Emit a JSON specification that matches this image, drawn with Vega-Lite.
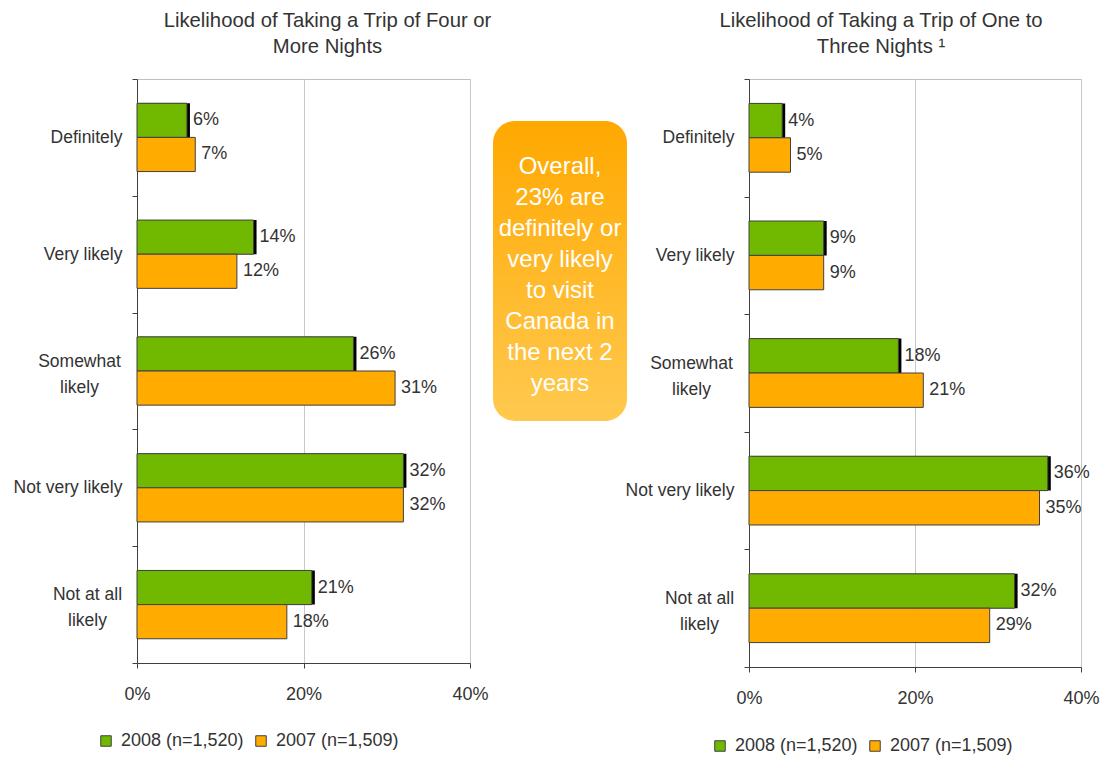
{
  "$schema": "https://vega.github.io/schema/vega-lite/v6.json",
  "padding": {"left": 12, "top": 10, "right": 0, "bottom": 5},
  "background": "white",
  "spacing": -3,
  "config": {
    "font": "Liberation Sans",
    "view": {"stroke": "#c0c0c0"},
    "axis": {"labelFont": "Liberation Sans", "labelColor": "#333333", "domainColor": "#404040", "tickColor": "#404040", "gridColor": "#c8c8c8"},
    "title": {"font": "Liberation Sans", "fontSize": 20.3, "fontWeight": "normal", "color": "#333333", "lineHeight": 26},
    "legend": {"labelFont": "Liberation Sans", "labelFontSize": 18, "labelColor": "#333333", "symbolType": "square", "symbolSize": 110, "symbolStrokeColor": "#404040", "symbolStrokeWidth": 1, "labelOffset": 6, "columnPadding": 8, "padding": 0, "symbolOpacity": 1},
    "concat": {"spacing": 0}
  },
  "datasets": {
    "four": [
      {"cat": "Definitely", "year": "2008 (n=1,520)", "pct": 0.06},
      {"cat": "Definitely", "year": "2007 (n=1,509)", "pct": 0.07},
      {"cat": "Very likely", "year": "2008 (n=1,520)", "pct": 0.14},
      {"cat": "Very likely", "year": "2007 (n=1,509)", "pct": 0.12},
      {"cat": "Somewhat likely", "year": "2008 (n=1,520)", "pct": 0.26},
      {"cat": "Somewhat likely", "year": "2007 (n=1,509)", "pct": 0.31},
      {"cat": "Not very likely", "year": "2008 (n=1,520)", "pct": 0.32},
      {"cat": "Not very likely", "year": "2007 (n=1,509)", "pct": 0.32},
      {"cat": "Not at all likely", "year": "2008 (n=1,520)", "pct": 0.21},
      {"cat": "Not at all likely", "year": "2007 (n=1,509)", "pct": 0.18}
    ],
    "one": [
      {"cat": "Definitely", "year": "2008 (n=1,520)", "pct": 0.04},
      {"cat": "Definitely", "year": "2007 (n=1,509)", "pct": 0.05},
      {"cat": "Very likely", "year": "2008 (n=1,520)", "pct": 0.09},
      {"cat": "Very likely", "year": "2007 (n=1,509)", "pct": 0.09},
      {"cat": "Somewhat likely", "year": "2008 (n=1,520)", "pct": 0.18},
      {"cat": "Somewhat likely", "year": "2007 (n=1,509)", "pct": 0.21},
      {"cat": "Not very likely", "year": "2008 (n=1,520)", "pct": 0.36},
      {"cat": "Not very likely", "year": "2007 (n=1,509)", "pct": 0.35},
      {"cat": "Not at all likely", "year": "2008 (n=1,520)", "pct": 0.32},
      {"cat": "Not at all likely", "year": "2007 (n=1,509)", "pct": 0.29}
    ],
    "note": [
      {"note": "Overall,\n23% are\ndefinitely or\nvery likely\nto visit\nCanada in\nthe next 2\nyears"}
    ],
    "empty": []
  },
  "hconcat": [
    {
      "width": 333,
      "height": 584,
      "title": {"text": ["Likelihood of Taking a Trip of Four or", "More Nights"], "dx": 24, "offset": 13},
      "data": {"name": "four"},
      "encoding": {
        "y": {"field": "cat", "type": "nominal", "sort": ["Definitely", "Very likely", "Somewhat likely", "Not very likely", "Not at all likely"],
          "scale": {"paddingInner": 0, "paddingOuter": 0},
          "axis": {"title": null, "tickBand": "extent", "tickSize": 5, "labelFontSize": 17.5, "labelLineHeight": 26,
            "labelExpr": "datum.value == 'Somewhat likely' ? ['Somewhat', 'likely'] : datum.value == 'Not at all likely' ? ['Not at all', 'likely'] : datum.label",
            "labelAlign": {"condition": {"test": "datum.value == 'Somewhat likely' || datum.value == 'Not at all likely'", "value": "center"}, "value": "right"},
            "labelOffset": {"condition": {"test": "datum.value == 'Somewhat likely' || datum.value == 'Not at all likely'", "value": -10}, "value": 0},
            "labelPadding": {"condition": [{"test": "datum.value == 'Somewhat likely'", "value": 53}, {"test": "datum.value == 'Not at all likely'", "value": 45}], "value": 10}}},
        "yOffset": {"field": "year", "type": "nominal", "scale": {"domain": ["2008 (n=1,520)", "2007 (n=1,509)"], "paddingInner": 0, "paddingOuter": 0.71}},
        "x": {"field": "pct", "type": "quantitative", "scale": {"domain": [0, 0.4]},
          "axis": {"title": null, "values": [0, 0.2, 0.4], "format": ".0%", "grid": true, "tickSize": 5, "labelFontSize": 18, "labelPadding": 17, "labelFlush": false}}
      },
      "layer": [
        {"transform": [{"filter": "datum.year == '2008 (n=1,520)'"}],
          "mark": {"type": "bar", "color": "black", "xOffset": 3, "x2Offset": 3, "yOffset": 3, "y2Offset": 3}},
        {"mark": {"type": "bar", "stroke": "#404040", "strokeWidth": 1},
          "encoding": {"color": {"field": "year", "type": "nominal",
            "scale": {"domain": ["2008 (n=1,520)", "2007 (n=1,509)"], "range": ["#70b900", "#ffab00"]},
            "legend": {"title": null, "orient": "none", "direction": "horizontal", "legendX": -40, "legendY": 653}}}},
        {"mark": {"type": "text", "align": "left", "baseline": "middle", "dx": 6, "fontSize": 18, "color": "#333333"},
          "encoding": {"text": {"field": "pct", "type": "quantitative", "format": ".0%"}}}
      ]
    },
    {
      "spacing": 0,
      "vconcat": [
        {
          "width": 134,
          "height": 42,
          "view": {"stroke": null, "fill": null},
          "data": {"name": "empty"},
          "mark": {"type": "text"},
          "encoding": {}
        },
        {
          "width": 134,
          "height": 300,
          "view": {"fill": {"gradient": "linear", "x1": 0, "y1": 0, "x2": 0, "y2": 1, "stops": [{"offset": 0, "color": "#ffa800"}, {"offset": 1, "color": "#ffc94f"}]}, "stroke": null, "cornerRadius": 22},
          "data": {"name": "note"},
          "mark": {"type": "text", "lineBreak": "\n", "fontSize": 24, "lineHeight": 31, "color": "white", "align": "center", "baseline": "middle", "dy": -104},
          "encoding": {"text": {"field": "note", "type": "nominal"}}
        }
      ]
    },
    {
      "width": 332,
      "height": 588,
      "title": {"text": ["Likelihood of Taking a Trip of One to", "Three Nights ¹"], "dx": -34, "offset": 13},
      "data": {"name": "one"},
      "encoding": {
        "y": {"field": "cat", "type": "nominal", "sort": ["Definitely", "Very likely", "Somewhat likely", "Not very likely", "Not at all likely"],
          "scale": {"paddingInner": 0, "paddingOuter": 0},
          "axis": {"title": null, "tickBand": "extent", "tickSize": 5, "labelFontSize": 17.5, "labelLineHeight": 26,
            "labelExpr": "datum.value == 'Somewhat likely' ? ['Somewhat', 'likely'] : datum.value == 'Not at all likely' ? ['Not at all', 'likely'] : datum.label",
            "labelAlign": {"condition": {"test": "datum.value == 'Somewhat likely' || datum.value == 'Not at all likely'", "value": "center"}, "value": "right"},
            "labelOffset": {"condition": {"test": "datum.value == 'Somewhat likely' || datum.value == 'Not at all likely'", "value": -10}, "value": 0},
            "labelPadding": {"condition": [{"test": "datum.value == 'Somewhat likely'", "value": 53}, {"test": "datum.value == 'Not at all likely'", "value": 45}], "value": 10}}},
        "yOffset": {"field": "year", "type": "nominal", "scale": {"domain": ["2008 (n=1,520)", "2007 (n=1,509)"], "paddingInner": 0, "paddingOuter": 0.71}},
        "x": {"field": "pct", "type": "quantitative", "scale": {"domain": [0, 0.4]},
          "axis": {"title": null, "values": [0, 0.2, 0.4], "format": ".0%", "grid": true, "tickSize": 5, "labelFontSize": 18, "labelPadding": 17, "labelFlush": false}}
      },
      "layer": [
        {"transform": [{"filter": "datum.year == '2008 (n=1,520)'"}],
          "mark": {"type": "bar", "color": "black", "xOffset": 3, "x2Offset": 3, "yOffset": 3, "y2Offset": 3}},
        {"mark": {"type": "bar", "stroke": "#404040", "strokeWidth": 1},
          "encoding": {"color": {"field": "year", "type": "nominal",
            "scale": {"domain": ["2008 (n=1,520)", "2007 (n=1,509)"], "range": ["#70b900", "#ffab00"]},
            "legend": {"title": null, "orient": "none", "direction": "horizontal", "legendX": -38, "legendY": 658}}}},
        {"mark": {"type": "text", "align": "left", "baseline": "middle", "dx": 6, "fontSize": 18, "color": "#333333"},
          "encoding": {"text": {"field": "pct", "type": "quantitative", "format": ".0%"}}}
      ]
    }
  ],
  "resolve": {"scale": {"color": "independent", "x": "independent", "y": "independent", "yOffset": "independent"}, "legend": {"color": "independent"}}
}
